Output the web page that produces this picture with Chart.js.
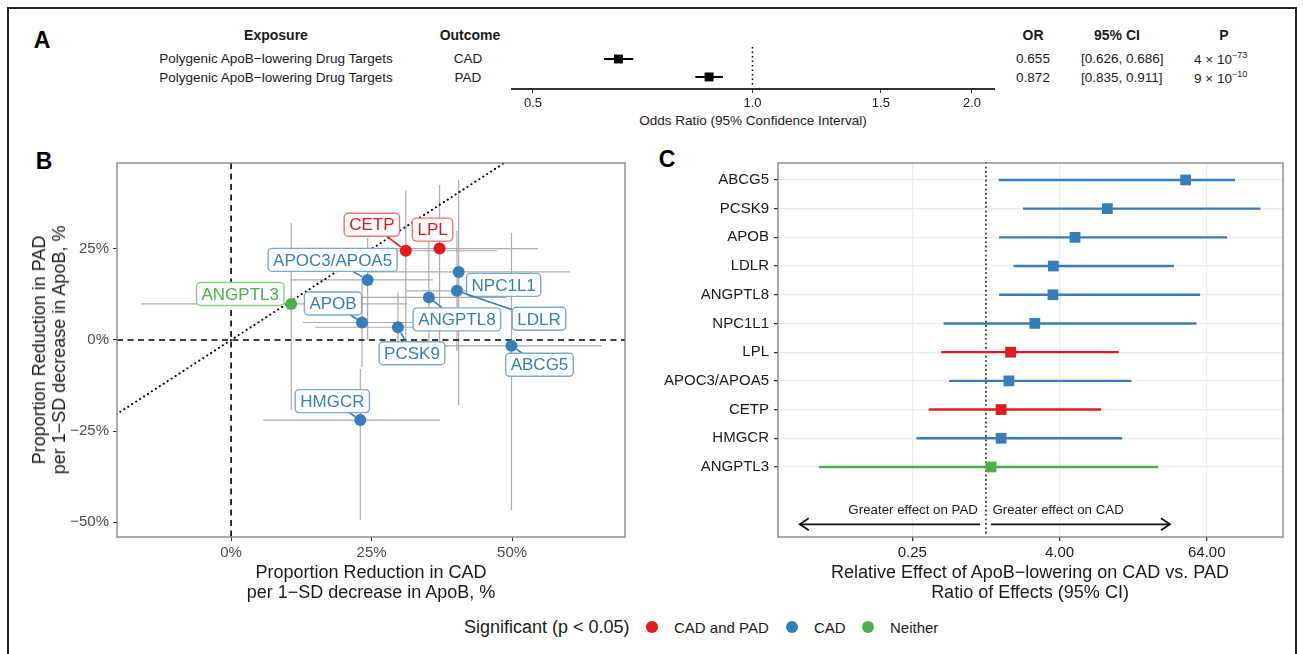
<!DOCTYPE html>
<html>
<head>
<meta charset="utf-8">
<script src="https://cdn.jsdelivr.net/npm/chart.js@4.4.1/dist/chart.umd.min.js"></script>
<style>
  body { margin: 0; background: #fff; font-family: "Liberation Sans", Arial, sans-serif; color: #1a1a1a; }
  #page { position: relative; width: 1303px; height: 654px; overflow: hidden; }
  #frame { position: absolute; left: 7px; top: 7px; width: 1286px; height: 670px; border: 2px solid #222; }
  .t { position: absolute; white-space: nowrap; line-height: 1; transform: translate(-50%, -50%); }
  .l { position: absolute; white-space: nowrap; line-height: 1; transform: translate(0, -50%); }
  .tag { font-weight: bold; font-size: 23px; color: #000; }
  .hd { font-weight: bold; font-size: 14px; }
  .row { font-size: 13.5px; }
  .ax { font-size: 18px; line-height: 20px; text-align: center; }
  canvas { position: absolute; }
  .dot { position: absolute; width: 12px; height: 12px; border-radius: 50%; transform: translate(-50%, -50%); }
  sup { font-size: 9px; vertical-align: 6px; }
</style>
</head>
<body>
<div id="page">
  <div id="frame"></div>

  <!-- panel A table -->
  <div class="t tag" style="left:42px;top:40px">A</div>
  <div class="t hd" style="left:276px;top:35px">Exposure</div>
  <div class="t hd" style="left:470px;top:35px">Outcome</div>
  <div class="t hd" style="left:1033px;top:35px">OR</div>
  <div class="t hd" style="left:1117px;top:35px">95% CI</div>
  <div class="t hd" style="left:1224px;top:35px">P</div>
  <div id="tableA"></div>
  <div class="t row" style="left:753px;top:121px">Odds Ratio (95% Confidence Interval)</div>
  <canvas id="chartA" width="540" height="100" style="left:480px;top:30px;width:540px;height:100px"></canvas>

  <!-- panel B -->
  <div class="t tag" style="left:44px;top:161px">B</div>
  <canvas id="chartB" width="650" height="470" style="left:0;top:140px;width:650px;height:470px"></canvas>
  <div class="t ax" style="left:49px;top:350px;transform:translate(-50%,-50%) rotate(-90deg)">Proportion Reduction in PAD<br>per 1−SD decrease in ApoB, %</div>
  <div class="t ax" style="left:371px;top:582px">Proportion Reduction in CAD<br>per 1−SD decrease in ApoB, %</div>

  <!-- panel C -->
  <div class="t tag" style="left:667px;top:159px">C</div>
  <canvas id="chartC" width="653" height="470" style="left:650px;top:140px;width:653px;height:470px"></canvas>
  <div class="t ax" style="left:1030px;top:582px">Relative Effect of ApoB−lowering on CAD vs. PAD<br>Ratio of Effects (95% CI)</div>

  <!-- shared legend -->
  <div id="legend"></div>
</div>

<script>
// ---- panel A: pooled drug targets ----
const aExposure = 'Polygenic ApoB−lowering Drug Targets';
const aOutcomes = ['CAD', 'PAD'];
const aOR = [0.655, 0.872];
const aLow = [0.626, 0.835];
const aHigh = [0.686, 0.911];
const aCI = ['[0.626, 0.686]', '[0.835, 0.911]'];
const aPmant = ['4', '9'];
const aPexp = ['−73', '−10'];
const aTicks = [0.5, 1.0, 1.5, 2.0];

// ---- panel B: proportion reduction per 1-SD ApoB decrease (%) ----
const genes = ['CETP', 'LPL', 'APOC3/APOA5', 'NPC1L1', 'LDLR', 'ANGPTL8', 'APOB', 'PCSK9', 'ABCG5', 'HMGCR', 'ANGPTL3'];
const cadRed = [31.1, 37.1, 24.3, 40.5, 40.2, 35.2, 23.3, 29.7, 49.9, 23.0, 10.7];
const cadLo  = [14.5, 24.2, 10.5, 24.4, 31.3, 22.0, 12.8, 15.0, 37.7, 5.7, -16.0];
const cadHi  = [47.3, 54.6, 35.9, 60.3, 51.4, 49.0, 35.4, 32.5, 66.0, 37.2, 31.3];
const padRed = [24.5, 25.1, 16.5, 18.7, 13.5, 11.7, 4.8, 3.5, -1.6, -22.0, 9.9];
const padLo  = [-1.0, -0.5, 0.0, -17.9, -3.0, -2.0, -7.4, -6.3, -46.7, -49.5, -19.2];
const padHi  = [41.0, 42.6, 28.0, 44.0, 30.0, 27.5, 16.0, 13.0, 29.4, -8.0, 32.1];
const sigGroup = ['CAD and PAD', 'CAD and PAD', 'CAD', 'CAD', 'CAD', 'CAD', 'CAD', 'CAD', 'CAD', 'CAD', 'Neither'];
const bTicksX = [0, 25, 50];
const bTicksY = [-50, -25, 0, 25];

// ---- panel C: ratio of effects CAD vs PAD ----
const cGenes = ['ABCG5', 'PCSK9', 'APOB', 'LDLR', 'ANGPTL8', 'NPC1L1', 'LPL', 'APOC3/APOA5', 'CETP', 'HMGCR', 'ANGPTL3'];
const cRatio = [43.0, 9.85, 5.35, 3.56, 3.53, 2.51, 1.59, 1.54, 1.33, 1.33, 1.10];
const cLow   = [1.27, 2.01, 1.28, 1.68, 1.28, 0.45, 0.43, 0.50, 0.34, 0.27, 0.043];
const cHigh  = [109, 176, 93.7, 34.5, 56.5, 52.7, 12.2, 15.5, 8.75, 13.0, 25.6];
const cGroup = ['CAD', 'CAD', 'CAD', 'CAD', 'CAD', 'CAD', 'CAD and PAD', 'CAD', 'CAD and PAD', 'CAD', 'Neither'];
const cTicks = [0.25, 4, 64];

const groups = ['CAD and PAD', 'CAD', 'Neither'];
const groupColor = { 'CAD and PAD': '#E41A1C', 'CAD': '#377EB8', 'Neither': '#4DAF4A' };
const groupEdge = { 'CAD and PAD': '#F07274', 'CAD': '#77A9D6', 'Neither': '#8ACD88' };

// label placement for panel B (pixel offset from point), like ggrepel output
const labelNudge = [[-34, -26], [-7, -19], [-35, -20], [45, 13], [82, 28], [28, 22],
                    [-29, -19], [14, 26], [28, 19], [-28, -19], [-51, -10]];

Chart.defaults.font.family = '"Liberation Sans", Arial, sans-serif';

function line(ctx, x1, y1, x2, y2) {
  ctx.beginPath(); ctx.moveTo(x1, y1); ctx.lineTo(x2, y2); ctx.stroke();
}

// table text for panel A
let html = '';
const rowY = [59, 78];
aOutcomes.forEach((o, i) => {
  html += `<div class="t row" style="left:276px;top:${rowY[i]}px">${aExposure}</div>`;
  html += `<div class="t row" style="left:468px;top:${rowY[i]}px">${o}</div>`;
  html += `<div class="t row" style="left:1033px;top:${rowY[i]}px">${aOR[i].toFixed(3)}</div>`;
  html += `<div class="l row" style="left:1081px;top:${rowY[i]}px">${aCI[i]}</div>`;
  html += `<div class="l row" style="left:1194px;top:${rowY[i]}px">${aPmant[i]} × 10<sup>${aPexp[i]}</sup></div>`;
});
document.getElementById('tableA').innerHTML = html;

// legend
let lg = '<div class="l" style="left:464px;top:627px;font-size:18px">Significant (p &lt; 0.05)</div>';
const legX = [652, 792, 868];
groups.forEach((g, i) => {
  lg += `<div class="dot" style="left:${legX[i]}px;top:627px;background:${groupColor[g]}"></div>`;
  lg += `<div class="l" style="left:${legX[i] + 22}px;top:627px;font-size:15px">${g}</div>`;
});
document.getElementById('legend').innerHTML = lg;

// ---------- panel A ----------
const panelA = {
  id: 'panelA',
  beforeDatasetsDraw(chart) {
    const { ctx, chartArea: ca, scales: { x, y } } = chart;
    ctx.save();
    ctx.strokeStyle = '#000';
    ctx.lineWidth = 1.5;
    ctx.setLineDash([1.5, 3]);
    const x1 = x.getPixelForValue(1);
    line(ctx, x1, ca.top + 2, x1, ca.bottom - 3);
    ctx.setLineDash([]);
    ctx.lineWidth = 2;
    aOR.forEach((v, i) => {
      const py = y.getPixelForValue(aOutcomes.length - i);
      line(ctx, x.getPixelForValue(aLow[i]), py, x.getPixelForValue(aHigh[i]), py);
    });
    ctx.restore();
  }
};

new Chart(document.getElementById('chartA'), {
  type: 'scatter',
  data: {
    datasets: [{
      data: aOR.map((v, i) => ({ x: v, y: aOutcomes.length - i })),
      pointStyle: 'rect', pointRadius: 6.3, pointHoverRadius: 6.3,
      backgroundColor: '#000', borderWidth: 0
    }]
  },
  options: {
    responsive: false, animation: false, events: [],
    layout: { padding: { left: 32, right: 26, top: 15, bottom: 0 } },
    plugins: { legend: { display: false }, tooltip: { enabled: false } },
    scales: {
      x: {
        type: 'logarithmic', min: 0.468, max: 2.144,
        afterBuildTicks: s => { s.ticks = aTicks.map(v => ({ value: v })); },
        afterFit: s => { s.height = 41; },
        ticks: { callback: v => Number(v).toFixed(1), color: '#1a1a1a', font: { size: 13 }, padding: 3, maxRotation: 0, autoSkip: false },
        grid: { drawOnChartArea: false, tickLength: 4, color: '#333' },
        border: { color: '#333', width: 2 }
      },
      y: { display: false, min: 0.33, max: 2.78 }
    }
  },
  plugins: [panelA]
});

// ---------- panel B ----------
const panelB = {
  id: 'panelB',
  beforeDatasetsDraw(chart) {
    const { ctx, chartArea: ca, scales: { x, y } } = chart;
    ctx.save();
    ctx.beginPath(); ctx.rect(ca.left, ca.top, ca.width, ca.height); ctx.clip();

    // error bars
    ctx.strokeStyle = '#ababab';
    ctx.lineWidth = 1.2;
    genes.forEach((g, i) => {
      const px = x.getPixelForValue(cadRed[i]), py = y.getPixelForValue(padRed[i]);
      line(ctx, x.getPixelForValue(cadLo[i]), py, x.getPixelForValue(cadHi[i]), py);
      line(ctx, px, y.getPixelForValue(padLo[i]), px, y.getPixelForValue(padHi[i]));
    });

    // reference lines
    ctx.strokeStyle = '#000';
    ctx.lineWidth = 1.6;
    ctx.setLineDash([6, 4.5]);
    const x0 = x.getPixelForValue(0), y0 = y.getPixelForValue(0);
    line(ctx, x0, ca.top, x0, ca.bottom);
    line(ctx, ca.left, y0, ca.right, y0);

    // identity line
    ctx.setLineDash([0.1, 4.6]);
    ctx.lineCap = 'round';
    ctx.lineWidth = 2;
    const lo = Math.min(x.min, y.min), hi = Math.max(x.max, y.max);
    line(ctx, x.getPixelForValue(lo), y.getPixelForValue(lo), x.getPixelForValue(hi), y.getPixelForValue(hi));
    ctx.restore();
  },
  afterDatasetsDraw(chart) {
    const { ctx, scales: { x, y } } = chart;
    ctx.save();
    ctx.font = '17px "Liberation Sans", Arial, sans-serif';
    ctx.textAlign = 'center';
    ctx.textBaseline = 'middle';
    genes.forEach((g, i) => {
      const col = groupColor[sigGroup[i]];
      const px = x.getPixelForValue(cadRed[i]), py = y.getPixelForValue(padRed[i]);
      const lx = px + labelNudge[i][0], ly = py + labelNudge[i][1];
      const bw = ctx.measureText(g).width + 10, bh = 23;
      // leader segment
      const dx = px - lx, dy = py - ly, len = Math.hypot(dx, dy);
      const tBox = Math.min(dx ? (bw / 2) / Math.abs(dx) : Infinity, dy ? (bh / 2) / Math.abs(dy) : Infinity);
      const tEnd = 1 - 6 / len;
      if (tBox < tEnd && (tEnd - tBox) * len > 3) {
        ctx.strokeStyle = col;
        ctx.lineWidth = 1.6;
        line(ctx, lx + dx * tBox, ly + dy * tBox, lx + dx * tEnd, ly + dy * tEnd);
      }
      // label box
      ctx.beginPath();
      ctx.roundRect(lx - bw / 2, ly - bh / 2, bw, bh, 4);
      ctx.fillStyle = '#fff';
      ctx.fill();
      ctx.strokeStyle = groupEdge[sigGroup[i]];
      ctx.lineWidth = 1.4;
      ctx.stroke();
      ctx.fillStyle = col;
      ctx.fillText(g, lx, ly + 1);
    });
    ctx.restore();
  },
  afterDraw(chart) {
    const { ctx, chartArea: ca } = chart;
    ctx.save();
    ctx.strokeStyle = '#7f7f7f';
    ctx.lineWidth = 1.3;
    ctx.strokeRect(ca.left, ca.top, ca.width, ca.height);
    ctx.restore();
  }
};

new Chart(document.getElementById('chartB'), {
  type: 'scatter',
  data: {
    datasets: [{
      data: genes.map((g, i) => ({ x: cadRed[i], y: padRed[i] })),
      pointRadius: 6, pointHoverRadius: 6, borderWidth: 0,
      backgroundColor: sigGroup.map(s => groupColor[s])
    }]
  },
  options: {
    responsive: false, animation: false, events: [],
    layout: { padding: { left: 0, right: 25, top: 23, bottom: 0 } },
    plugins: { legend: { display: false }, tooltip: { enabled: false } },
    scales: {
      x: {
        type: 'linear', min: -20.3, max: 70.1,
        afterBuildTicks: s => { s.ticks = bTicksX.map(v => ({ value: v })); },
        afterFit: s => { s.height = 73; },
        ticks: { callback: v => v + '%', color: '#4d4d4d', font: { size: 15 }, padding: 3, maxRotation: 0, autoSkip: false },
        grid: { drawOnChartArea: false, tickLength: 4, color: '#333' },
        border: { display: false }
      },
      y: {
        type: 'linear', min: -54.1, max: 48.6,
        afterBuildTicks: s => { s.ticks = bTicksY.map(v => ({ value: v })); },
        afterFit: s => { s.width = 117; },
        ticks: { callback: v => (v < 0 ? '−' : '') + Math.abs(v) + '%', color: '#4d4d4d', font: { size: 15 }, padding: 4, autoSkip: false },
        grid: { drawOnChartArea: false, tickLength: 4, color: '#333' },
        border: { display: false }
      }
    }
  },
  plugins: [panelB]
});

// ---------- panel C ----------
const panelC = {
  id: 'panelC',
  beforeDatasetsDraw(chart) {
    const { ctx, chartArea: ca, scales: { x, y } } = chart;
    ctx.save();
    // null line
    ctx.strokeStyle = '#333';
    ctx.lineWidth = 2;
    ctx.lineCap = 'round';
    ctx.setLineDash([0.1, 4.3]);
    const x1 = x.getPixelForValue(1);
    line(ctx, x1, ca.top, x1, ca.bottom);
    ctx.setLineDash([]);
    ctx.lineCap = 'butt';
    // confidence intervals
    ctx.lineWidth = 2.4;
    cGenes.forEach((g, i) => {
      const py = y.getPixelForValue(cGenes.length - i);
      ctx.strokeStyle = groupColor[cGroup[i]];
      line(ctx, x.getPixelForValue(cLow[i]), py, x.getPixelForValue(cHigh[i]), py);
    });
    // direction arrows
    ctx.strokeStyle = '#111';
    ctx.lineWidth = 1.8;
    const ya = y.getPixelForValue(-1), yt = y.getPixelForValue(-0.5);
    const aL = x.getPixelForValue(0.03), aR = x.getPixelForValue(32);
    const cL = x.getPixelForValue(0.895), cR = x.getPixelForValue(1.1);
    line(ctx, aL, ya, cL, ya);
    line(ctx, cR, ya, aR, ya);
    ctx.beginPath(); ctx.moveTo(aL + 9, ya - 6); ctx.lineTo(aL, ya); ctx.lineTo(aL + 9, ya + 6); ctx.stroke();
    ctx.beginPath(); ctx.moveTo(aR - 9, ya - 6); ctx.lineTo(aR, ya); ctx.lineTo(aR - 9, ya + 6); ctx.stroke();
    ctx.fillStyle = '#1a1a1a';
    ctx.font = '13.3px "Liberation Sans", Arial, sans-serif';
    ctx.textBaseline = 'middle';
    ctx.textAlign = 'right';
    ctx.fillText('Greater effect on PAD', x.getPixelForValue(0.86), yt);
    ctx.textAlign = 'left';
    ctx.fillText('Greater effect on CAD', x.getPixelForValue(1.13), yt);
    ctx.restore();
  },
  afterDraw(chart) {
    const { ctx, chartArea: ca } = chart;
    ctx.save();
    ctx.strokeStyle = '#7f7f7f';
    ctx.lineWidth = 1.3;
    ctx.strokeRect(ca.left, ca.top, ca.width, ca.height);
    ctx.restore();
  }
};

new Chart(document.getElementById('chartC'), {
  type: 'scatter',
  data: {
    datasets: [{
      data: cGenes.map((g, i) => ({ x: cRatio[i], y: cGenes.length - i })),
      pointStyle: 'rect', pointRadius: 7.6, pointHoverRadius: 7.6, borderWidth: 0,
      backgroundColor: cGroup.map(s => groupColor[s])
    }]
  },
  options: {
    responsive: false, animation: false, events: [],
    layout: { padding: { left: 0, right: 20, top: 23, bottom: 0 } },
    plugins: { legend: { display: false }, tooltip: { enabled: false } },
    scales: {
      x: {
        type: 'logarithmic', min: 0.0199, max: 269,
        afterBuildTicks: s => { s.ticks = cTicks.map(v => ({ value: v })); },
        afterFit: s => { s.height = 73; },
        ticks: { callback: v => Number(v).toFixed(2), color: '#1a1a1a', font: { size: 15 }, padding: 3, maxRotation: 0, autoSkip: false },
        grid: { color: '#ebebeb', lineWidth: 1.3, tickLength: 4, tickColor: '#333' },
        border: { display: false }
      },
      y: {
        type: 'linear', min: -1.44, max: 11.59,
        afterBuildTicks: s => { s.ticks = cGenes.map((g, i) => ({ value: cGenes.length - i })); },
        afterFit: s => { s.width = 128; },
        ticks: { callback: v => cGenes[cGenes.length - v], color: '#1a1a1a', font: { size: 15 }, padding: 5, autoSkip: false },
        grid: { color: '#ebebeb', lineWidth: 1.3, tickLength: 4, tickColor: '#333' },
        border: { display: false }
      }
    }
  },
  plugins: [panelC]
});
</script>
</body>
</html>
